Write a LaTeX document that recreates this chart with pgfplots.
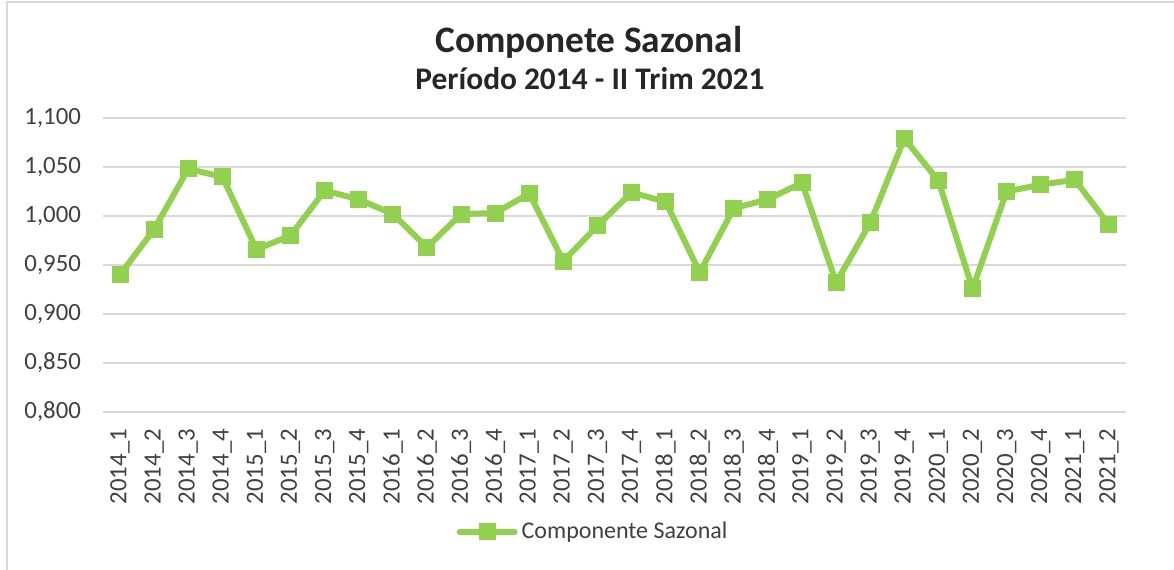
\documentclass[border=0pt]{standalone}
\usepackage{pgfplots}
\pgfplotsset{compat=1.18}
\usepackage{fontspec}
\setmainfont{Carlito}
\definecolor{lgreen}{HTML}{92D050}
\definecolor{gridc}{HTML}{D9D9D9}
\definecolor{txt}{HTML}{404040}
\definecolor{ttl}{HTML}{262626}
\begin{document}
\begin{tikzpicture}
\path[use as bounding box] (0,0) rectangle (587pt,284.5pt);
\draw[gridc, line width=1pt] (3.25pt,-10pt) -- (3.25pt,283.25pt) -- (600pt,283.25pt);
\node[anchor=base, font=\fontsize{18.7pt}{22pt}\selectfont\bfseries, text=ttl] at (294.4pt,258.15pt) {Componete Sazonal};
\node[anchor=base, font=\fontsize{15.7pt}{18pt}\selectfont\bfseries, text=ttl] at (295pt,240pt) {Período 2014 - II Trim 2021};
\begin{axis}[
  at={(51.5pt,78.5pt)}, anchor=south west,
  scale only axis, width=511.5pt, height=147pt,
  xmin=-0.5, xmax=29.5, ymin=0.8, ymax=1.1,
  ytick={0.8,0.85,0.9,0.95,1.0,1.05,1.1},
  xtick={0,...,29},
  xticklabels={2014\_1,2014\_2,2014\_3,2014\_4,2015\_1,2015\_2,2015\_3,2015\_4,2016\_1,2016\_2,2016\_3,2016\_4,2017\_1,2017\_2,2017\_3,2017\_4,2018\_1,2018\_2,2018\_3,2018\_4,2019\_1,2019\_2,2019\_3,2019\_4,2020\_1,2020\_2,2020\_3,2020\_4,2021\_1,2021\_2},
  major tick length=0pt,
  axis line style={draw=none},
  ymajorgrids=true,
  grid style={gridc, line width=0.9pt},
  tick label style={font=\fontsize{12.4pt}{14pt}\selectfont, text=txt},
  xticklabel style={rotate=90, anchor=east},
  xticklabel shift=5pt,
  yticklabel shift=7.5pt,
  /pgf/number format/assume math mode=true,
  yticklabel style={/pgf/number format/.cd, fixed, fixed zerofill, precision=3, use comma},
  legend style={at={(axis description cs:0.48,-0.408)}, anchor=center, draw=none, fill=none,
     font=\fontsize{12pt}{14pt}\selectfont, text=txt, inner sep=0pt},
  legend image code/.code={\draw[mark repeat=2,mark phase=2,#1] plot coordinates {(0pt,0pt) (13.75pt,0pt) (27.5pt,0pt)};},
  clip=false,
]
\addplot[lgreen, line width=3pt, line join=round, line cap=round, mark=square*, mark size=4pt, mark options={solid, fill=lgreen, draw=lgreen, line width=0pt}]
coordinates {
(0,0.940) (1,0.9865) (2,1.048) (3,1.040) (4,0.966) (5,0.980) (6,1.026) (7,1.017)
(8,1.002) (9,0.968) (10,1.002) (11,1.003) (12,1.023) (13,0.954) (14,0.990) (15,1.024)
(16,1.0145) (17,0.9425) (18,1.008) (19,1.017) (20,1.034) (21,0.932) (22,0.993) (23,1.079)
(24,1.036) (25,0.9257) (26,1.025) (27,1.032) (28,1.037) (29,0.991)
};
\addlegendentry{Componente Sazonal}
\end{axis}
\end{tikzpicture}
\end{document}
